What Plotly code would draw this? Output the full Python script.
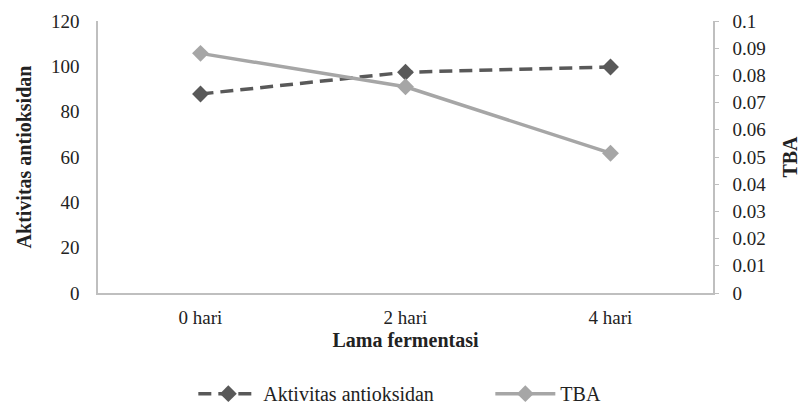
import plotly.graph_objects as go

categories = ["0 hari", "2 hari", "4 hari"]
aktivitas = [87.8, 97.4, 99.7]
tba = [0.0881, 0.0758, 0.0514]
left_ticks = [0, 20, 40, 60, 80, 100, 120]
right_ticks = [0, 0.01, 0.02, 0.03, 0.04, 0.05, 0.06, 0.07, 0.08, 0.09, 0.1]

FONT = "Liberation Serif"
fig = go.Figure()
fig.add_trace(go.Scatter(
    x=categories, y=aktivitas, name="Aktivitas antioksidan", mode="lines+markers",
    line=dict(color="#595959", width=3.5, dash="13px,7px"),
    marker=dict(symbol="diamond", size=13, color="#595959"),
    yaxis="y"))
fig.add_trace(go.Scatter(
    x=categories, y=tba, name="TBA", mode="lines+markers",
    line=dict(color="#A6A6A6", width=3.5),
    marker=dict(symbol="diamond", size=13, color="#A6A6A6"),
    yaxis="y2"))

fig.update_layout(
    width=801, height=407,
    margin=dict(l=98, r=88, t=21, b=114, autoexpand=False),
    paper_bgcolor="white", plot_bgcolor="white",
    font=dict(family=FONT, size=19, color="#222222"),
    showlegend=True,
    legend=dict(orientation="h", x=0.155, y=-0.37, xanchor="left", yanchor="middle",
                font=dict(size=20, family=FONT), itemwidth=60, tracegroupgap=0,
                entrywidth=222, entrywidthmode="pixels"),
    xaxis=dict(type="category", range=[-0.5, 2.5], showline=True, linecolor="#BFBFBF",
               linewidth=1.5, ticks="", showgrid=False, ticklabelstandoff=6, automargin=False,
               title=dict(text="<b>Lama fermentasi</b>", font=dict(size=20, family=FONT), standoff=6)),
    yaxis=dict(range=[0, 120], tickvals=left_ticks, showline=True, linecolor="#BFBFBF",
               linewidth=1.5, ticks="", showgrid=False, zeroline=False, ticklabelstandoff=13,
               automargin=False,
               title=dict(text="<b>Aktivitas antioksidan</b>", font=dict(size=20, family=FONT), standoff=14)),
    yaxis2=dict(range=[0, 0.1], tickvals=right_ticks, overlaying="y", side="right",
                showline=True, linecolor="#BFBFBF", linewidth=1.5, ticks="outside", ticklen=4,
                tickcolor="#BFBFBF", showgrid=False, zeroline=False, ticklabelstandoff=10,
                automargin=False,
                title=dict(text="<b>TBA</b>", font=dict(size=20, family=FONT), standoff=24)),
)

fig.write_html("out.html")
